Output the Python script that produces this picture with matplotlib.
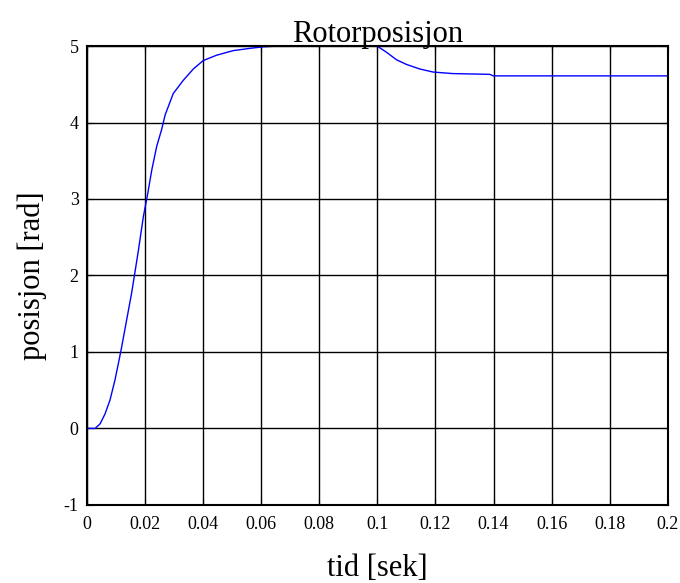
import numpy as np
import matplotlib.pyplot as plt

# rotor position
tid = [0, 0.0028, 0.0045, 0.0062, 0.0079, 0.0096, 0.0108, 0.0119, 0.0136, 0.0154,
       0.0177, 0.0194, 0.0209, 0.0223, 0.024, 0.0257, 0.0269, 0.0297, 0.0331, 0.0366,
       0.040, 0.0446, 0.0503, 0.0561, 0.0606, 0.066, 0.1,
       0.1003, 0.1031, 0.1066, 0.11, 0.1146, 0.1192, 0.126, 0.1387, 0.1399, 0.2]
posisjon = [0, 0, 0.06, 0.19, 0.37, 0.63, 0.85, 1.06, 1.41, 1.78,
            2.33, 2.77, 3.07, 3.38, 3.69, 3.91, 4.10, 4.38, 4.55, 4.70,
            4.81, 4.88, 4.94, 4.97, 4.99, 5.0, 5.0,
            4.99, 4.92, 4.82, 4.76, 4.70, 4.66, 4.64, 4.63, 4.61, 4.61]

xticks = np.round(np.arange(0, 0.201, 0.02), 2)
xticklabels = ['0', '0.02', '0.04', '0.06', '0.08', '0.1', '0.12', '0.14', '0.16', '0.18', '0.2']
yticks = [-1, 0, 1, 2, 3, 4, 5]

plt.rcParams['font.family'] = ['Liberation Serif', 'DejaVu Serif']
plt.rcParams['axes.unicode_minus'] = False

fig = plt.figure(figsize=(6.8, 5.83), dpi=100)
ax = fig.add_axes([0.128, 0.134, 0.854, 0.787])
ax.plot(tid, posisjon, color='#0000ff', lw=1.0)
ax.set_xlim(0, 0.2)
ax.set_ylim(-1, 5)
ax.set_xticks(xticks)
ax.set_xticklabels(xticklabels)
ax.set_yticks(yticks)
ax.grid(True, color='black', linestyle='-', linewidth=1.0)
ax.tick_params(direction='in', length=4, labelsize=13, top=True, right=True, pad=8)
ax.tick_params(axis='y', pad=6)
for s in ax.spines.values():
    s.set_linewidth(1.5)
ax.set_title('Rotorposisjon', fontsize=22, pad=3)
ax.set_xlabel('tid [sek]', fontsize=22, labelpad=15)
ax.set_ylabel('posisjon [rad]', fontsize=22, labelpad=12)

fig.savefig('out.png', dpi=100)
